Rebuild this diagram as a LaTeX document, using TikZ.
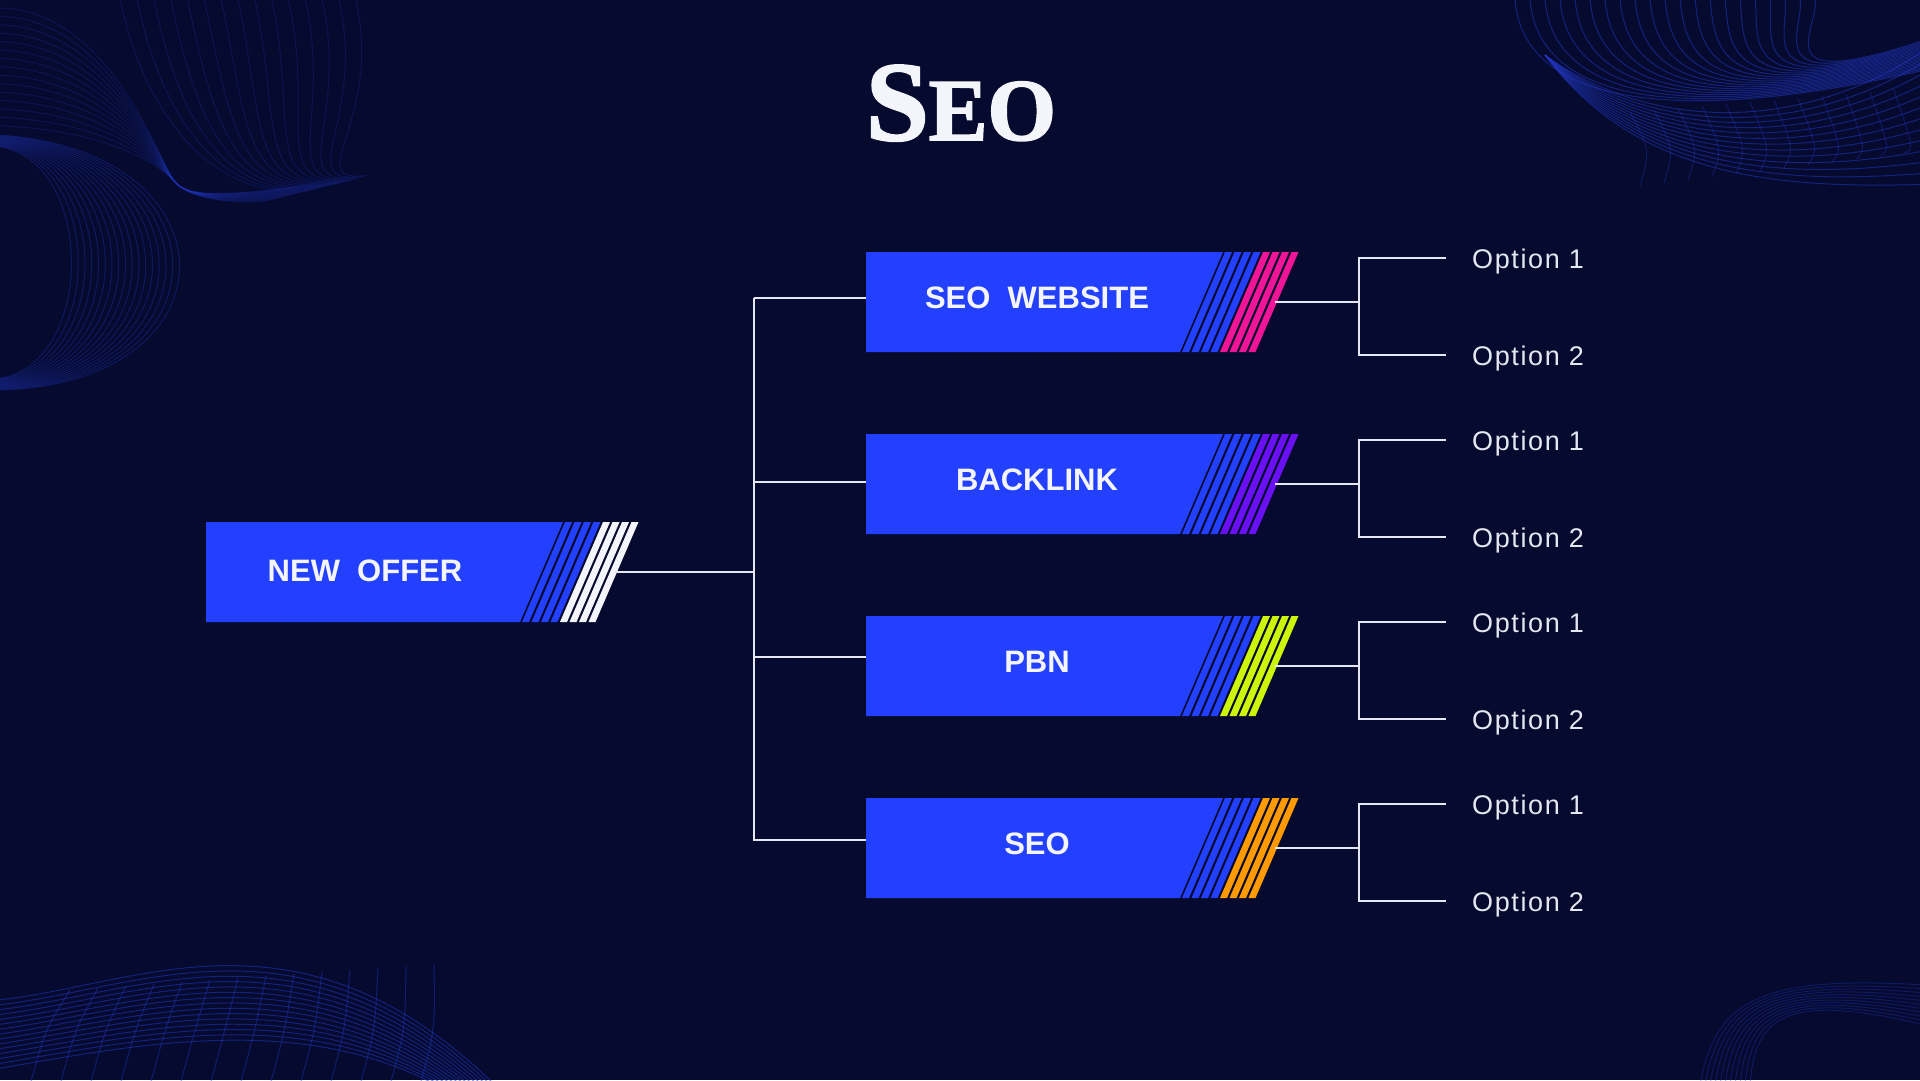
\documentclass[tikz,border=0pt]{standalone}
\usepackage{fontspec}
\setmainfont{Liberation Sans}
\newfontfamily\titlefont{Liberation Serif Bold}[FakeBold=2]
\newfontfamily\optionfont{Liberation Sans}[LetterSpace=6]
\usepackage{xcolor}
\usepackage{tikz}
\usetikzlibrary{positioning}

\definecolor{bgnavy}{HTML}{050A2E}
\definecolor{boxblue}{HTML}{2440FF}
\definecolor{linegray}{HTML}{E4E6F0}
\definecolor{meshblue}{HTML}{2236C0}
\definecolor{accentwhite}{HTML}{F4F5FA}
\definecolor{accentpink}{HTML}{F01496}
\definecolor{accentpurple}{HTML}{6A10F5}
\definecolor{accentlime}{HTML}{CCF50A}
\definecolor{accentorange}{HTML}{FF9A00}

\tikzset{
    boxtext/.style={text=accentwhite, font=\bfseries\fontsize{31}{31}\selectfont, inner sep=0pt, text height=22pt, text depth=0pt},
    optiontext/.style={text=linegray, font=\optionfont\fontsize{27}{27}\selectfont, anchor=west, inner sep=0pt, text height=20pt, text depth=0pt},
    link/.style={draw=linegray, line width=2pt},
    mesh/.style={draw=meshblue, line width=1pt, opacity=0.55},
}

% striped box: name, left x, top y, text x, text y, accent colour, text
\newcommand{\offerbox}[7]{%
    \fill[boxblue] (#2,#3) -- ++(357,0) -- ++(-43,100) -- (#2,#3+100) -- cycle;
    \foreach \i in {0,...,7}{%
        \ifnum\i<4 \def\stripecol{boxblue}\else\def\stripecol{#6}\fi
        \fill[\stripecol] (#2+359+9.5*\i,#3) -- ++(7,0) -- ++(-43,100) -- ++(-7,0) -- cycle;
    }
    \node[boxtext] (#1) at (#2+#4,#3+#5) {#7};
    \coordinate (#1-left) at (#2,#3+50);
    \coordinate (#1-end) at (#2+409,#3+50);
    \coordinate (#1-fork) at (#2+493,#3+50);
}

\begin{document}
\begin{tikzpicture}[x=1pt, y=-1pt]
    % background
    \fill[bgnavy] (0,0) rectangle (1920,1080);
    \useasboundingbox (0,0) rectangle (1920,1080);

    % wavy meshes in the corners
    \begin{scope}
        \clip (0,0) rectangle (1920,1080);
        \foreach \t in {0,0.05,...,1.01}
            \draw[mesh] (1515+300*\t,-2) .. controls (1520+300*\t,90-60*\t) and (1640+120*\t,135-40*\t) .. (1925,70-30*\t);
        \foreach \t in {0,0.08,...,1.01}
            \draw[mesh] (1545,55) .. controls (1640,125+60*\t) and (1790,140+50*\t) .. (1925,50+140*\t);
        \foreach \s in {0,...,11}
            \draw[mesh, opacity=0.35] (1630+24*\s,112-2*\s) .. controls (1650+24*\s,150) .. (1640+24*\s,186-3*\s);
        \foreach \t in {0,0.07,...,1.01}
            \draw[mesh, opacity=0.25] (-2,8+120*\t) .. controls (110,8+125*\t) and (160,165) .. (175,182) .. controls (190,200) and (240,205-10*\t) .. (270+90*\t,200-22*\t);
        \foreach \t in {0,0.07,...,1.01}
            \draw[mesh, opacity=0.25] (120+240*\t,-2) .. controls (140+250*\t,100+20*\t) and (200+100*\t,185) .. (280+90*\t,190-15*\t);
        \foreach \t in {0,0.06,...,1.01}
            \draw[mesh, opacity=0.35] (-2,135+12*\t) .. controls (240-150*\t,150+10*\t) and (240-150*\t,385-20*\t) .. (-2,390-12*\t);
        \foreach \t in {0,0.07,...,1.01}
            \draw[mesh] (-2,1000+70*\t) .. controls (140,985+60*\t) and (300,895+120*\t) .. (495-60*\t,1085);
        \foreach \s in {0,...,13}
            \draw[mesh, opacity=0.45] (30+30*\s,1085) .. controls (45+30*\s,1030) .. (70+28*\s,990-2*\s);
        \foreach \t in {0,0.1,...,1.01}
            \draw[mesh, opacity=0.35] (1700+50*\t,1085) .. controls (1715+40*\t,1000+20*\t) and (1760+20*\t,975+15*\t) .. (1925,985+40*\t);
    \end{scope}

    % title
    \node[anchor=base, inner sep=0pt, text=accentwhite] (title) at (961,140)
        {\titlefont\fontsize{113}{113}\selectfont S\fontsize{88}{88}\selectfont EO};

    % root box and trunk
    \offerbox{offer}{206}{522}{159}{48}{accentwhite}{NEW\ \ OFFER}
    \coordinate (trunk) at (754,297.5);
    \draw[link] (offer-end) -| (trunk);

    % child boxes with their options
    \foreach \name/\row/\lift/\accent/\txt in {website/252/4.5/accentpink/{SEO\ \ WEBSITE}, backlink/434/2/accentpurple/BACKLINK, pbn/616/9/accentlime/PBN, seo/798/8/accentorange/SEO}{
        \offerbox{\name}{866}{\row}{171}{45}{\accent}{\txt}
        \draw[link] ([yshift=\lift pt]\name-left) -| (trunk);
        \node[optiontext] (\name-o1) at (1472,\row+6) {Option 1};
        \node[optiontext] (\name-o2) at (1472,\row+103) {Option 2};
        \draw[link] (\name-end) -- (\name-fork);
        \draw[link] ([xshift=-26pt]\name-o1.west) -| (\name-fork) |- ([xshift=-26pt]\name-o2.west);
    }
\end{tikzpicture}
\end{document}
